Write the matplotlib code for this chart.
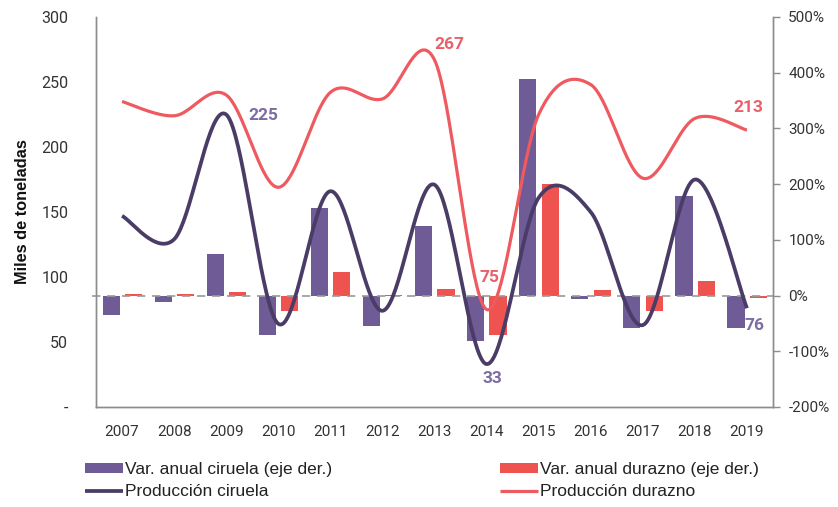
import numpy as np
import matplotlib
matplotlib.use("Agg")
import matplotlib.pyplot as plt
from matplotlib.ticker import FixedLocator, FuncFormatter

years = ["2007", "2008", "2009", "2010", "2011", "2012", "2013",
         "2014", "2015", "2016", "2017", "2018", "2019"]
var_ciruela = [-34, -12, 74, -71, 158, -55, 125, -82, 388, -7, -58, 179, -58]
var_durazno = [3, 2, 6, -28, 43, 1, 11, -71, 200, 10, -28, 26, -4]
prod_ciruela = [147, 129, 225, 64, 166, 74, 171, 33, 161, 150, 63, 175, 76]
prod_durazno = [235, 224, 240, 169, 242, 237, 267, 75, 225, 248, 176, 222, 213]

left_ticks = [0, 50, 100, 150, 200, 250, 300]
right_ticks = [-200, -100, 0, 100, 200, 300, 400, 500]

C_BAR_PUR = "#6f5b96"
C_BAR_RED = "#ef5350"
C_LINE_PUR = "#4a3c66"
C_LINE_RED = "#ee5a5f"
C_LAB_PUR = "#7d6ca3"
C_LAB_RED = "#e8616a"
GRAY = "#8c8c8c"
TXT = "#333333"


def smooth(xs, ys, n=40):
    xs = np.asarray(xs, float)
    ys = np.asarray(ys, float)
    P = np.column_stack([xs, ys])
    out = []
    m = len(P)
    for i in range(m - 1):
        p0 = P[i - 1] if i > 0 else P[i]
        p1 = P[i]
        p2 = P[i + 1]
        p3 = P[i + 2] if i + 2 < m else P[i + 1]
        c1 = p1 + (p2 - p0) / 6.0
        c2 = p2 - (p3 - p1) / 6.0
        t = np.linspace(0, 1, n)[:, None]
        seg = ((1 - t) ** 3) * p1 + 3 * ((1 - t) ** 2) * t * c1 + 3 * (1 - t) * t ** 2 * c2 + t ** 3 * p2
        out.append(seg if i == 0 else seg[1:])
    s = np.vstack(out)
    return s[:, 0], s[:, 1]


fig = plt.figure(figsize=(8.38, 5.07), dpi=100)
L, R, B, T = 96 / 838, 773 / 838, 100 / 507, 490 / 507
ax = fig.add_axes([L, B, R - L, T - B])   # bars, right scale
ax2 = ax.twinx()                           # lines, left scale

x = np.arange(len(years))
w = 0.33
bp = ax.bar(x - 0.21, var_ciruela, w, color=C_BAR_PUR, zorder=2,
            label="Var. anual ciruela (eje der.)")
br = ax.bar(x + 0.22, var_durazno, w, color=C_BAR_RED, zorder=2,
            label="Var. anual durazno (eje der.)")
ax.axhline(0, xmin=-0.006, xmax=1, color="#9a9a9a", lw=1.2,
           dashes=(5, 4), zorder=3, clip_on=False)

ax.set_xlim(-0.5, len(years) - 0.5)
ax.set_ylim(-200, 500)
ax.yaxis.tick_right()
ax.yaxis.set_major_locator(FixedLocator(right_ticks))
ax.yaxis.set_major_formatter(FuncFormatter(lambda v, p: f"{int(v)}%"))
ax.tick_params(axis="y", direction="out", length=5, width=1, color=GRAY,
               pad=6, labelsize=11, labelcolor=TXT)
ax.set_xticks(x)
ax.set_xticklabels(years)
ax.tick_params(axis="x", length=0, pad=13, labelsize=11, labelcolor=TXT)

xs, ys = smooth(x, prod_ciruela)
lc, = ax2.plot(xs, ys, color=C_LINE_PUR, lw=2.7, solid_capstyle="butt",
               label="Producción ciruela", zorder=4)
xs, ys = smooth(x, prod_durazno)
ld, = ax2.plot(xs, ys, color=C_LINE_RED, lw=2.3, solid_capstyle="butt",
               label="Producción durazno", zorder=4)
ax2.set_ylim(0, 300)
ax2.yaxis.tick_left()
ax2.yaxis.set_label_position("left")
ax2.yaxis.set_major_locator(FixedLocator(left_ticks))
ax2.yaxis.set_major_formatter(FuncFormatter(lambda v, p: "-" if v == 0 else f"{int(v)}"))
ax2.tick_params(axis="y", length=0, pad=20, labelsize=11.5, labelcolor=TXT)
ax2.set_ylabel("Miles de toneladas", fontsize=11.8, fontweight="bold",
               family=["Liberation Sans", "DejaVu Sans"], color="#111111", labelpad=8)

for a in (ax, ax2):
    a.spines["top"].set_visible(False)
    for s in ("left", "right", "bottom"):
        a.spines[s].set_color(GRAY)
        a.spines[s].set_linewidth(1)
for lab in ax.get_xticklabels() + ax.get_yticklabels() + ax2.get_yticklabels():
    lab.set_family(["Roboto", "DejaVu Sans"])

lkw = dict(fontsize=12.5, fontweight="bold", family=["Roboto", "DejaVu Sans"],
           ha="center", va="center", zorder=6)
ax2.text(2.71, 224.6, "225", color=C_LAB_PUR, **lkw)
ax2.text(6.28, 278.5, "267", color=C_LAB_RED, **lkw)
ax2.text(7.06, 100, "75", color=C_LAB_RED, **lkw)
ax2.text(7.12, 22.3, "33", color=C_LAB_PUR, **lkw)
ax2.text(12.02, 230, "213", color=C_LAB_RED, **lkw)
ax2.text(12.15, 63, "76", color=C_LAB_PUR, **lkw)

legfont = {"family": ["Liberation Sans Narrow", "Liberation Sans", "DejaVu Sans"], "size": 12.5}
common = dict(frameon=False, prop=legfont, handlelength=2.2, handleheight=0.5,
              handletextpad=0.1, labelspacing=0.42, borderpad=0, borderaxespad=0,
              labelcolor="#222222")
leg1 = fig.legend([bp, lc], [bp.get_label(), lc.get_label()],
                  loc="upper left", bbox_to_anchor=(85 / 838, 1 - 462 / 507), **common)
leg2 = fig.legend([br, ld], [br.get_label(), ld.get_label()],
                  loc="upper left", bbox_to_anchor=(500 / 838, 1 - 462 / 507), **common)

fig.savefig("out.png", dpi=100)
